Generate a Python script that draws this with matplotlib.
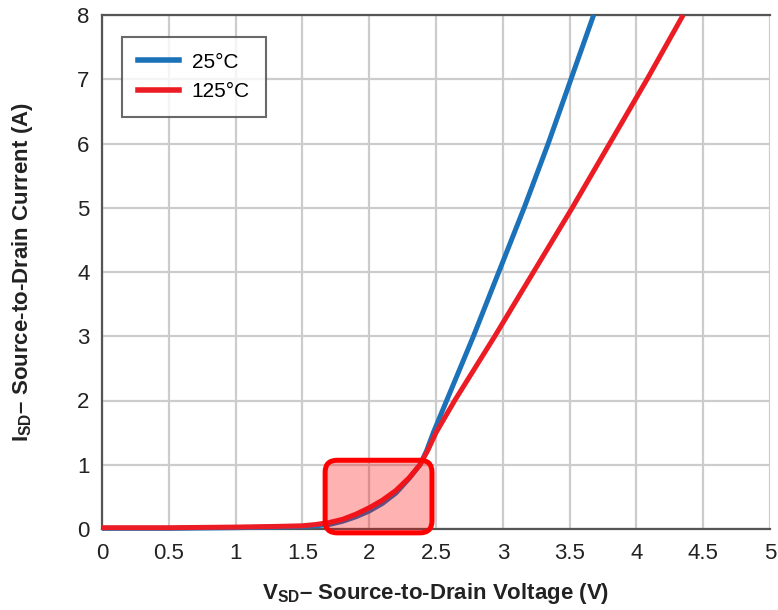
import matplotlib
matplotlib.use("Agg")
import matplotlib.pyplot as plt
from matplotlib.patches import FancyBboxPatch
from matplotlib.lines import Line2D

FONT = ['Liberation Sans', 'DejaVu Sans']
plt.rcParams['font.family'] = FONT
plt.rcParams['mathtext.fontset'] = 'custom'
plt.rcParams['mathtext.rm'] = 'Liberation Sans'
plt.rcParams['mathtext.bf'] = 'Liberation Sans:bold'

# data
v_25 = [0.0, 0.5, 1.0, 1.3, 1.5, 1.6, 1.7, 1.8, 1.9, 2.0, 2.1, 2.2, 2.3, 2.38, 2.43,
        2.48, 2.58, 2.68, 2.78, 2.97, 3.16, 3.34, 3.51, 3.68]
i_25 = [0.01, 0.01, 0.02, 0.03, 0.04, 0.05, 0.07, 0.12, 0.19, 0.28, 0.40, 0.56, 0.79, 1.0, 1.22,
        1.5, 2.0, 2.5, 3.0, 4.0, 5.0, 6.0, 7.0, 8.0]
v_125 = [0.0, 0.5, 1.0, 1.3, 1.5, 1.6, 1.7, 1.8, 1.9, 2.0, 2.1, 2.2, 2.3, 2.38, 2.44,
         2.50, 2.64, 2.79, 2.94, 3.23, 3.52, 3.80, 4.08, 4.35]
i_125 = [0.02, 0.02, 0.03, 0.04, 0.05, 0.07, 0.10, 0.15, 0.23, 0.33, 0.45, 0.60, 0.80, 1.0, 1.23,
         1.5, 2.0, 2.5, 3.0, 4.0, 5.0, 6.0, 7.0, 8.0]
series_labels = ['25°C', '125°C']
x_ticks = [0, 0.5, 1, 1.5, 2, 2.5, 3, 3.5, 4, 4.5, 5]
x_tick_labels = ['0', '0.5', '1', '1.5', '2', '2.5', '3', '3.5', '4', '4.5', '5']
y_ticks = [0, 1, 2, 3, 4, 5, 6, 7, 8]
highlight_x = (1.67, 2.47)
highlight_y = (-0.06, 1.07)

BLUE = '#1c72b8'
RED = '#ec1c24'

fig = plt.figure(figsize=(7.78, 6.10), dpi=100)
ax = fig.add_axes([102/778, 1-529/610, 668/778, 514/610])
ax.set_xlim(0, 5)
ax.set_ylim(0, 8)

ax.plot(v_25, i_25, color=BLUE, lw=3.6, solid_capstyle='butt', zorder=3, clip_on=False)
ax.plot(v_125, i_125, color=RED, lw=3.6, solid_capstyle='butt', zorder=3, clip_on=False)

ax.set_xticks(x_ticks)
ax.set_xticklabels(x_tick_labels)
ax.set_yticks(y_ticks)
ax.tick_params(length=0, labelsize=16, colors='#222222', pad=10)
ax.tick_params(axis='y', pad=9)
ax.grid(True, color='#cccccc', lw=1.6, zorder=0)
ax.set_axisbelow(True)
for s in ['left', 'bottom', 'top']:
    ax.spines[s].set_color('#555555')
    ax.spines[s].set_linewidth(1.6)
ax.spines['right'].set_visible(False)

ax.set_xlabel(r'$\mathbf{V}_{\mathbf{SD}}$– Source-to-Drain Voltage (V)',
              fontsize=16, fontweight='bold', color='#222222', labelpad=12)
ax.set_ylabel(r'$\mathbf{I}_{\mathbf{SD}}$– Source-to-Drain Current (A)',
              fontsize=16, fontweight='bold', color='#222222', labelpad=30)

# highlight box with rounded corners
bw = ax.get_window_extent()
px_x = bw.width / 5.0
px_y = bw.height / 8.0
box = FancyBboxPatch((highlight_x[0], highlight_y[0]),
                     highlight_x[1]-highlight_x[0], highlight_y[1]-highlight_y[0],
                     boxstyle='round,pad=0,rounding_size=0.09',
                     mutation_aspect=px_x/px_y,
                     facecolor=(1, 0, 0, 0.3), edgecolor='#ff0000', lw=3.6,
                     zorder=5, clip_on=False)
ax.add_patch(box)

handles = [Line2D([], [], color=BLUE, lw=4), Line2D([], [], color=RED, lw=4)]
leg = ax.legend(handles, series_labels, loc='upper left', bbox_to_anchor=(0.03, 0.957),
                fontsize=15, frameon=True, fancybox=False, handlelength=2.0,
                borderpad=0.75, labelspacing=0.5, handletextpad=0.6, borderaxespad=0)
leg.get_frame().set_edgecolor('#444444')
leg.get_frame().set_linewidth(1.5)

fig.savefig('out.png', dpi=100)
